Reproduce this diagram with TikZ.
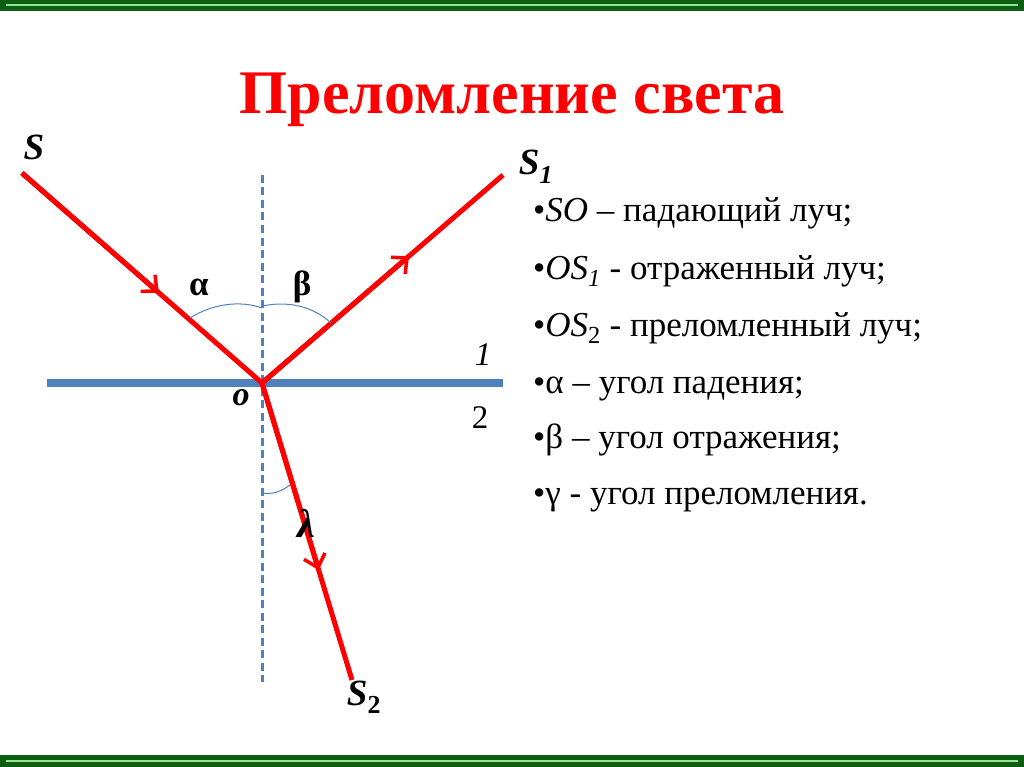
\documentclass[tikz,border=0pt]{standalone}
\usepackage{fontspec}
\setmainfont{Liberation Serif}
\usetikzlibrary{arrows.meta,calc}
\definecolor{rayred}{RGB}{255,0,0}
\definecolor{planeblue}{RGB}{79,129,189}
\definecolor{darkgrass}{RGB}{12,95,18}
\definecolor{lightgrass}{RGB}{150,230,140}
\tikzset{
  ray/.style={rayred, line width=5pt},
  rayhead/.style={ray, -{Straight Barb[length=12pt, width=22pt, line width=3.5pt]}},
  anglearc/.style={planeblue, line width=1pt},
  lbl/.style={anchor=base, inner sep=0pt, font=\bfseries\itshape\fontsize{37}{37}\selectfont},
  greek/.style={anchor=base, inner sep=0pt, font=\bfseries\fontsize{35}{35}\selectfont},
  listitem/.style={anchor=base west, inner sep=0pt, font=\fontsize{35}{35}\selectfont}
}
\begin{document}
\begin{tikzpicture}[x=1pt, y=-1pt]
  \useasboundingbox (0,0) rectangle (1024,767);
  % green frame strips
  \fill[darkgrass] (0,0) rectangle (1024,11);
  \draw[lightgrass, line width=2pt] (6,5) -- (1018,5);
  \fill[darkgrass] (0,755) rectangle (1024,767);
  \draw[lightgrass, line width=2pt] (6,761) -- (1018,761);

  \node[anchor=base, inner sep=0pt, text=rayred, font=\bfseries\fontsize{62}{62}\selectfont]
    (title) at (512,114) {Преломление света};

  % boundary and normal
  \coordinate (O) at (262,383);
  \coordinate (left) at (47,383);
  \coordinate (right) at (503,383);
  \coordinate (top) at (262,175);
  \coordinate (bottom) at (262,682);
  \draw[planeblue, line width=7.5pt] (left) -- (right);
  \draw[planeblue, line width=3pt, dash pattern=on 8pt off 4.5pt] (top) -- (bottom);

  % rays, each with its head part way along
  \coordinate (s) at (22,173);
  \coordinate (s1) at (503,175);
  \coordinate (s2) at (352,680);
  \draw[ray] (s) -- (O) -- (s1);
  \draw[ray] (O) -- (s2);
  \draw[rayhead] (s) -- ($(s)!0.57!(O)$);
  \draw[rayhead] (O) -- ($(O)!0.61!(s1)$);
  \draw[rayhead] (O) -- ($(O)!0.63!(s2)$);

  % angles
  \draw[anglearc] (190,318) .. controls (212,304) and (240,300) .. (262,308);
  \draw[anglearc] (263,306) .. controls (285,301) and (312,305) .. (331,323);
  \draw[anglearc] (262,493) .. controls (272,495) and (282,491) .. (290,485);

  % labels
  \node[lbl] (S) at (34,160) {S};
  \node[lbl] (S1) at (536,175) {S\textsubscript{1}};
  \node[lbl] (S2) at (364,705) {S\textsubscript{\upshape 2}};
  \node[lbl, font=\bfseries\itshape\fontsize{34}{34}\selectfont] (o) at (241,405) {o};
  \node[anchor=base, inner sep=0pt, font=\itshape\fontsize{33}{33}\selectfont] (n1) at (483,365) {1};
  \node[anchor=base, inner sep=0pt, font=\fontsize{33}{33}\selectfont] (n2) at (480,428) {2};
  \node[greek] (alpha) at (199,295) {α};
  \node[greek] (beta) at (302,295) {β};
  \node[greek, font=\bfseries\itshape\fontsize{40}{40}\selectfont] (gamma) at (306,537) {λ};

  % legend
  \node[listitem] (item1) at (533,222) {•\textit{SO} – падающий луч;};
  \node[listitem] (item2) at (533,279) {•\textit{OS\textsubscript{1}} - отраженный луч;};
  \node[listitem] (item3) at (533,336) {•\textit{OS}\textsubscript{2} - преломленный луч;};
  \node[listitem] (item4) at (533,393) {•α – угол падения;};
  \node[listitem] (item5) at (533,448) {•β – угол отражения;};
  \node[listitem] (item6) at (533,504) {•γ - угол преломления.};
\end{tikzpicture}
\end{document}
